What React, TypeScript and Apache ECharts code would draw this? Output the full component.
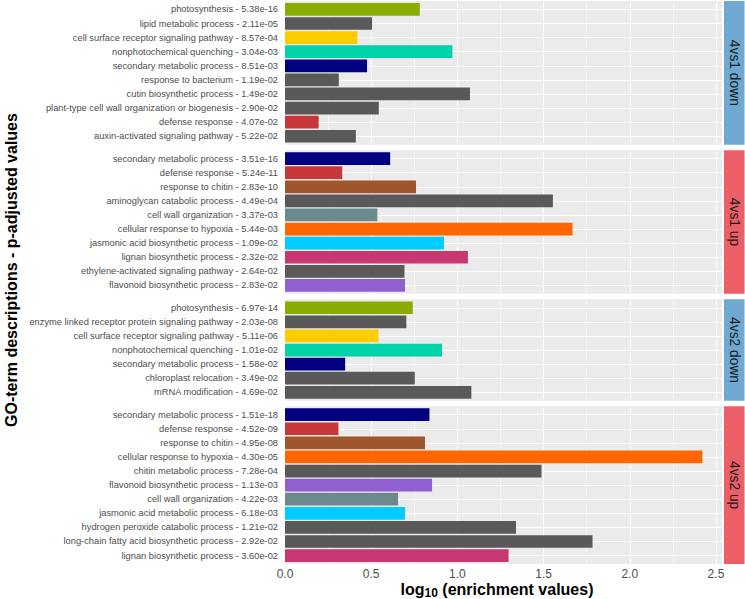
import React, { useEffect, useRef } from "react";
import * as echarts from "echarts";

// ---------- data ----------
const panelNames = ["4vs1 down", "4vs1 up", "4vs2 down", "4vs2 up"];

const p1Labels = [
  "photosynthesis - 5.38e-16",
  "lipid metabolic process - 2.11e-05",
  "cell surface receptor signaling pathway - 8.57e-04",
  "nonphotochemical quenching - 3.04e-03",
  "secondary metabolic process - 8.51e-03",
  "response to bacterium - 1.19e-02",
  "cutin biosynthetic process - 1.49e-02",
  "plant-type cell wall organization or biogenesis - 2.90e-02",
  "defense response - 4.07e-02",
  "auxin-activated signaling pathway - 5.22e-02",
];
const p1Values = [0.782, 0.505, 0.42, 0.971, 0.476, 0.312, 1.073, 0.544, 0.195, 0.411];

const p2Labels = [
  "secondary metabolic process - 3.51e-16",
  "defense response - 5.24e-11",
  "response to chitin - 2.83e-10",
  "aminoglycan catabolic process - 4.49e-04",
  "cell wall organization - 3.37e-03",
  "cellular response to hypoxia - 5.44e-03",
  "jasmonic acid biosynthetic process - 1.09e-02",
  "lignan biosynthetic process - 2.32e-02",
  "ethylene-activated signaling pathway - 2.64e-02",
  "flavonoid biosynthetic process - 2.83e-02",
];
const p2Values = [0.61, 0.332, 0.76, 1.554, 0.536, 1.668, 0.922, 1.061, 0.693, 0.696];

const p3Labels = [
  "photosynthesis - 6.97e-14",
  "enzyme linked receptor protein signaling pathway - 2.03e-08",
  "cell surface receptor signaling pathway - 5.11e-06",
  "nonphotochemical quenching - 1.01e-02",
  "secondary metabolic process - 1.58e-02",
  "chloroplast relocation - 3.49e-02",
  "mRNA modification - 4.69e-02",
];
const p3Values = [0.741, 0.704, 0.542, 0.911, 0.349, 0.753, 1.081];

const p4Labels = [
  "secondary metabolic process - 1.51e-18",
  "defense response - 4.52e-09",
  "response to chitin - 4.95e-08",
  "cellular response to hypoxia - 4.30e-05",
  "chitin metabolic process - 7.28e-04",
  "flavonoid biosynthetic process - 1.13e-03",
  "cell wall organization - 4.22e-03",
  "jasmonic acid metabolic process - 6.18e-03",
  "hydrogen peroxide catabolic process - 1.21e-02",
  "long-chain fatty acid biosynthetic process - 2.92e-02",
  "lignan biosynthetic process - 3.60e-02",
];
const p4Values = [0.838, 0.31, 0.812, 2.421, 1.488, 0.853, 0.656, 0.696, 1.34, 1.784, 1.297];

const xTicks = [0, 0.5, 1.0, 1.5, 2.0, 2.5];

const yTitle = "GO-term descriptions - p-adjusted values";
const xTitleParts = ["log", "10", " (enrichment values)"];

// ---------- styles ----------
const termColors: Record<string, string> = {
  "photosynthesis": "#8aab00",
  "cell surface receptor signaling pathway": "#ffcc00",
  "nonphotochemical quenching": "#00d2aa",
  "secondary metabolic process": "#000080",
  "defense response": "#c83737",
  "response to chitin": "#a0552d",
  "cell wall organization": "#6c8a8e",
  "cellular response to hypoxia": "#ff6600",
  "jasmonic acid biosynthetic process": "#00ccff",
  "jasmonic acid metabolic process": "#00ccff",
  "lignan biosynthetic process": "#c83771",
  "flavonoid biosynthetic process": "#9060d0",
};
const otherColor = "#595959";
const stripColors = ["#6fa8d0", "#ec5f67", "#6fa8d0", "#ec5f67"];
const FONT = "'Liberation Sans', Arial, Helvetica, sans-serif";

const PANEL_LEFT = 285;
const PANEL_RIGHT = 722;
const X_MAX = 2.535;

function measure(text: string, font: string): number {
  const c = document.createElement("canvas").getContext("2d");
  if (!c) return text.length * 8;
  c.font = font;
  return c.measureText(text).width;
}

export default function App() {
  const ref = useRef<HTMLDivElement>(null);
  useEffect(() => {
    document.body.style.margin = "0";
    const chart = echarts.init(ref.current!, null, { renderer: "svg" });
    const labels = [p1Labels, p2Labels, p3Labels, p4Labels];
    const values = [p1Values, p2Values, p3Values, p4Values];

    // panel layout (ggplot-like: discrete expansion 0.6 units each side)
    const topY = 1;
    const bottomY = 564;
    const gap = 5.5;
    const units = labels.map((l) => l.length + 0.2);
    const totalUnits = units.reduce((a, b) => a + b, 0);
    const unit = (bottomY - topY - gap * 3) / totalUnits;
    const panels: { top: number; h: number }[] = [];
    let y = topY;
    units.forEach((u) => {
      panels.push({ top: y, h: u * unit });
      y += u * unit + gap;
    });

    const grids = panels.map((p) => ({
      left: PANEL_LEFT,
      width: PANEL_RIGHT - PANEL_LEFT,
      top: p.top + 0.1 * unit,
      height: p.h - 0.2 * unit,
      containLabel: false,
      outerBoundsMode: "none",
      show: false,
    }));

    const xAxes = panels.map((_, i) => ({
      type: "value",
      gridIndex: i,
      min: 0,
      max: X_MAX,
      interval: 0.5,
      axisLine: { show: false },
      axisTick: { show: false },
      axisLabel: {
        show: i === 3,
        showMaxLabel: false,
        color: "#4d4d4d",
        fontSize: 12,
        fontFamily: FONT,
        margin: 5,
        formatter: (v: number) => (xTicks.indexOf(v) >= 0 ? v.toFixed(1) : ""),
      },
      splitLine: { show: true, showMaxLine: false, lineStyle: { color: "#ffffff", width: 1.1 } },
      minorTick: { show: false, splitNumber: 2 },
      minorSplitLine: { show: true, lineStyle: { color: "#ffffff", width: 0.55 } },
    }));

    const yAxes = panels.map((_, i) => ({
      type: "category",
      gridIndex: i,
      inverse: true,
      data: labels[i],
      axisLine: { show: false },
      axisTick: { show: false },
      axisLabel: {
        color: "#4d4d4d",
        fontSize: 9.3,
        fontFamily: FONT,
        margin: 7,
        interval: 0,
      },
      splitLine: {
        show: true,
        alignWithLabel: true,
        interval: 0,
        lineStyle: { color: "#ffffff", width: 1.1 },
      },
    }));

    const series = panels.map((_, i) => ({
      type: "bar",
      xAxisIndex: i,
      yAxisIndex: i,
      barWidth: "90%",
      data: values[i].map((v, j) => {
        const term = labels[i][j].split(" - ")[0];
        return { value: v, itemStyle: { color: termColors[term] || otherColor } };
      }),
    }));

    const graphic: any[] = [];
    panels.forEach((p, i) => {
      graphic.push({
        type: "rect",
        z: -10,
        shape: { x: PANEL_LEFT, y: p.top, width: PANEL_RIGHT - PANEL_LEFT, height: p.h },
        style: { fill: "#ebebeb" },
        silent: true,
      });
      graphic.push({
        type: "rect",
        shape: { x: 724, y: p.top, width: 20.5, height: p.h },
        style: { fill: stripColors[i] },
        silent: true,
      });
      graphic.push({
        type: "text",
        x: 734.5,
        y: p.top + p.h / 2,
        rotation: -Math.PI / 2,
        style: {
          text: panelNames[i],
          fill: "#1a1a1a",
          font: `13.8px ${FONT}`,
          align: "center",
          verticalAlign: "middle",
        },
        silent: true,
      });
    });
    graphic.push({
      type: "text",
      x: 11,
      y: 270,
      rotation: Math.PI / 2,
      style: {
        text: yTitle,
        fill: "#000000",
        font: `bold 16px ${FONT}`,
        align: "center",
        verticalAlign: "middle",
      },
      silent: true,
    });

    // x title: "log" + subscript "10" + rest
    const bigFont = `bold 16px ${FONT}`;
    const subFont = `bold 12px ${FONT}`;
    const w0 = measure(xTitleParts[0], bigFont);
    const w1 = measure(xTitleParts[1], subFont);
    const w2 = measure(xTitleParts[2], bigFont);
    const startX = 497 - (w0 + w1 + w2) / 2;
    graphic.push({
      type: "text",
      x: startX,
      y: 589,
      style: { text: xTitleParts[0], fill: "#000", font: bigFont, align: "left", verticalAlign: "middle" },
      silent: true,
    });
    graphic.push({
      type: "text",
      x: startX + w0,
      y: 592.5,
      style: { text: xTitleParts[1], fill: "#000", font: subFont, align: "left", verticalAlign: "middle" },
      silent: true,
    });
    graphic.push({
      type: "text",
      x: startX + w0 + w1,
      y: 589,
      style: { text: xTitleParts[2], fill: "#000", font: bigFont, align: "left", verticalAlign: "middle" },
      silent: true,
    });

    chart.setOption({
      animation: false,
      backgroundColor: "#ffffff",
      grid: grids,
      xAxis: xAxes,
      yAxis: yAxes,
      series,
      graphic,
    } as any);
    return () => chart.dispose();
  }, []);
  return <div ref={ref} style={{ width: 745, height: 599 }} />;
}
